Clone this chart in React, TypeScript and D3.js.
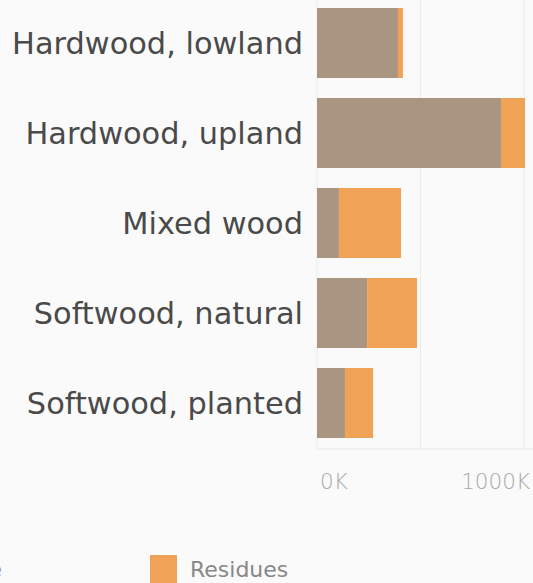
import React from "react";
import * as d3 from "d3";

const categories = ["Hardwood, lowland", "Hardwood, upland", "Mixed wood", "Softwood, natural", "Softwood, planted"];
const mainValues = [391, 889, 106, 242, 135];
const residueValues = [24, 116, 300, 241, 136];
const tickValues = [0, 500, 1000];
const tickLabels = ["0K", "", "1000K"];
const legendLabels = ["Merchantable", "Residues"];

const W = 533, H = 583;
const FONT = "'DejaVu Sans', Verdana, sans-serif";

export default function App() {
  const x = d3.scaleLinear().domain([0, 1000]).range([317, 524]);
  const y = d3.scaleBand().domain(categories).range([-2, 448]).paddingInner(20 / 90).paddingOuter(10 / 90);
  const stackData = categories.map((c, i) => ({ c, main: mainValues[i], res: residueValues[i] }));
  const stack = d3.stack<any>().keys(["main", "res"])(stackData);
  const colors = ["#aa9482", "#f0a357"];
  return (
    <svg width={W} height={H} style={{ position: "absolute", left: 0, top: 0, background: "#fafafa" }}>
      <rect x={0} y={0} width={W} height={H} fill="#fafafa" />
      {tickValues.map((t) => (
        <line key={t} x1={x(t)} x2={x(t)} y1={0} y2={449} stroke="#ececec" strokeWidth={1} />
      ))}
      <line x1={317} x2={533} y1={449} y2={449} stroke="#e8e8e8" />
      {stack.map((layer, li) =>
        layer.map((d, i) => (
          <rect key={li + "-" + i} x={x(d[0])} width={x(d[1]) - x(d[0])} y={y(categories[i])} height={y.bandwidth()} fill={colors[li]} />
        ))
      )}
      {categories.map((c) => (
        <text key={c} x={303} y={(y(c) as number) + y.bandwidth() / 2} dy="0.36em" textAnchor="end" fontFamily={FONT} fontSize={30.4} fill="#4a4a4a">
          {c}
        </text>
      ))}
      {tickValues.map((t, i) =>
        tickLabels[i] ? (
          <text key={"l" + t} x={i === 0 ? 320 : 530} y={489} textAnchor={i === 0 ? "start" : "end"} fontFamily={FONT} fontWeight={200} fontSize={21.5} fill="#a8a8a8">
            {tickLabels[i]}
          </text>
        ) : null
      )}
      <text x={2} y={577} textAnchor="end" fontFamily={FONT} fontSize={22} fill="#999">{legendLabels[0]}</text>
      <rect x={150} y={555} width={27} height={30} fill={colors[1]} />
      <text x={190} y={577} fontFamily={FONT} fontSize={22} fill="#888">{legendLabels[1]}</text>
    </svg>
  );
}
